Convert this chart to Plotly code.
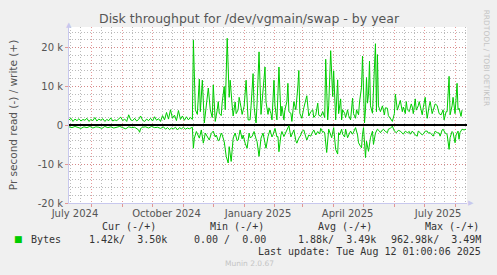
import datetime as dt
import plotly.graph_objects as go

# ---------------- data (day offset from start, value in k bytes/s) ----------------
start = dt.date(2024, 7, 9)
end_day = 400

write_day = [0, 2, 4, 6, 8, 10, 12, 14, 16, 18, 20, 22, 24, 26, 28, 30, 32, 34, 36, 38, 40, 42, 44, 46, 48, 50,
             52, 54, 56, 58, 60, 62, 64, 66, 68, 70, 72, 74, 76, 78, 80, 82, 84, 86, 88, 90, 92, 94, 96, 98, 100,
             102, 104, 106, 108, 110, 112, 114, 116, 118, 120, 122, 124,
             125, 127, 129, 131, 132, 134, 136, 138, 140, 142, 144, 145, 147, 149, 150, 151, 153, 154, 156, 157,
             159, 161, 162, 164, 165, 167, 168, 170, 171, 173, 174, 176, 178, 180, 182, 183, 185, 186, 188, 189,
             191, 193, 195, 197, 198, 200, 201, 203, 204, 206, 207, 209, 211, 213, 214, 216, 217, 219, 220, 221,
             223, 224, 226, 228, 230, 231, 232, 234, 236, 238, 239, 241, 243, 245, 246, 248, 250, 251, 253, 255,
             257, 258,
             260, 261, 263, 265, 266, 268, 270, 271, 273, 274, 275, 277, 278, 280, 281, 283, 285, 286, 288, 289,
             291, 292, 294, 295, 296, 297, 298, 299, 300, 301, 302, 303, 305, 306, 308, 309, 310, 311, 313, 315,
             317, 318, 320, 321, 323, 325, 327, 328, 330, 332, 333, 335, 336, 338, 339, 340, 342, 344, 345, 346,
             348, 349, 351, 352, 354, 355, 356, 358, 359, 360, 362, 363, 365, 367, 368, 370, 372, 374, 376, 377,
             379, 380, 382, 383, 385, 386, 388, 390, 391, 392, 394, 395, 397, 399]
write_k = [1.4, 1.8, 1.0, 1.6, 1.2, 1.7, 1.1, 1.5, 1.3, 1.8, 1.0, 1.5, 1.2, 2.0, 1.1, 1.6, 1.3, 1.7, 1.0, 1.5,
           1.2, 1.9, 1.1, 1.4, 1.2, 1.7, 2.1, 1.2, 1.6, 1.0, 2.7, 1.4, 1.2, 1.8, 1.1, 1.5, 2.4, 1.3, 1.0, 1.6,
           1.2, 1.8, 1.1, 2.2, 1.3, 1.7, 1.0, 2.5, 1.4, 3.3, 1.6, 4.0, 1.8, 2.6, 1.2, 3.8, 1.5, 2.4, 1.3, 2.2,
           1.4, 2.0, 1.5,
           21.9, 4.0, 2.8, 11.9, 3.5, 11.6, 0.6, 4.5, 9.6, 4.0, 2.0, 10.4, 1.0, 4.0, 6.1, 3.1, 2.5, 6.0, 10.0, 4.0,
           22.4, 7.2, 11.6, 5.0, 2.4, 6.0, 3.0, 4.0, 7.2, 4.5, 2.8, 4.9, 11.6, 1.4, 1.4, 5.0, 13.3, 4.8, 0.6, 5.5,
           18.9, 2.8, 8.0, 15.0, 6.0, 2.8, 4.5, 3.0, 1.4, 11.6, 5.0, 1.4, 15.0, 2.4, 4.9, 1.4, 4.0, 6.1, 10.8, 3.5,
           3.1, 1.0, 6.1, 4.0, 10.0, 14.1, 3.1, 1.8, 4.5, 6.6, 7.6, 2.4, 3.5, 4.0, 2.0, 2.7, 5.7, 2.6, 2.3, 3.5,
           2.0, 17.0,
           1.4, 5.0, 19.2, 7.4, 14.0, 1.4, 11.7, 3.0, 6.8, 1.4, 4.0, 3.1, 2.0, 4.0, 2.5, 1.4, 7.0, 3.0, 1.8, 4.0,
           2.7, 6.0, 9.8, 17.8, 5.0, 0.6, 4.0, 12.3, 5.7, 8.0, 16.5, 5.0, 3.1, 10.0, 21.0, 3.5, 18.2, 5.0, 3.5, 5.0,
           2.7, 4.5, 4.4, 2.5, 1.8, 1.0, 3.0, 8.0, 3.9, 6.0, 6.4, 3.5, 4.7, 3.0, 6.1, 4.0, 3.5, 5.5, 4.7, 3.0,
           6.8, 3.9, 5.0, 6.1, 3.5, 2.7, 4.5, 7.2, 4.0, 1.8, 5.0, 6.1, 3.0, 4.4, 5.5, 5.1, 3.0, 2.7, 4.0, 1.4,
           3.5, 3.5, 12.6, 2.7, 5.0, 7.2, 3.0, 10.8, 4.0, 4.4, 2.3, 3.9]

read_day = [0, 3, 6, 9, 12, 15, 18, 21, 24, 27, 30, 33, 36, 39, 42, 45, 48, 51, 54, 57, 60, 63, 66, 68, 70, 71,
            72, 74, 77, 80, 83, 86, 89, 92, 95, 97, 99, 101, 103, 105, 107, 109, 111, 113, 115, 117, 119, 121,
            123, 124,
            125, 126, 128, 130, 131, 133, 135, 137, 138, 140, 141, 143, 145, 147, 148, 150, 151, 153, 154, 156,
            158, 160, 161, 163, 165, 167, 169, 170, 172, 174, 175, 177, 179, 181, 182, 184, 186, 188, 189, 191,
            193, 195, 197, 198, 200, 202, 204, 205, 207, 209, 210, 211, 213, 214, 216, 218, 220, 221, 223, 224,
            226, 228, 229, 231, 233, 234, 236, 238, 239, 241, 243, 244, 246, 248, 250, 252, 253, 255, 256, 257,
            259, 261, 263, 264, 266, 268, 270, 271, 272, 274, 275, 277, 278, 280, 282, 283, 285, 287, 288, 290,
            291, 293, 294, 295, 296, 298, 299, 301, 303, 305, 306, 308, 310, 312, 313, 315, 316, 318, 320, 321,
            323, 325, 326, 327, 329, 331, 333, 335, 336, 338, 340, 342, 343, 345, 346, 348, 350, 351, 353, 355,
            356, 358, 360, 361, 363, 365, 366, 368, 370, 372, 373, 375, 376, 378, 380, 382, 383, 385, 386, 388,
            389, 391, 392, 393, 395, 397, 399]
read_k = [0.4, 0.6, 0.3, 0.5, 0.8, 0.4, 0.6, 0.3, 0.7, 0.4, 0.5, 0.8, 0.3, 0.6, 0.4, 0.7, 0.5, 0.3, 0.6, 0.9,
          0.4, 0.6, 0.5, 0.9, 1.2, 1.8, 0.8, 0.5, 0.4, 0.7, 0.3, 0.6, 0.5, 0.8, 0.4, 1.0, 0.6, 1.1, 0.7, 0.9,
          0.5, 1.2, 0.6, 0.9, 0.5, 1.0, 0.7, 0.9, 0.6, 0.5,
          5.9, 3.3, 1.6, 3.0, 3.3, 1.2, 4.6, 2.0, 2.5, 3.5, 3.8, 2.1, 1.5, 3.0, 2.5, 4.0, 3.8, 2.0, 2.5, 4.2,
          8.0, 9.7, 5.5, 9.3, 3.3, 2.0, 4.0, 3.8, 1.2, 3.5, 2.5, 4.6, 5.9, 2.0, 3.2, 2.9, 1.6, 3.5, 4.2, 8.0,
          3.3, 2.0, 4.5, 5.9, 2.9, 1.2, 3.0, 2.5, 0.8, 3.0, 2.9, 6.8, 2.5, 1.6, 2.9, 1.8, 0.8, 0.1, 3.0, 2.5,
          1.2, 4.0, 4.6, 3.3, 2.5, 1.6, 1.2, 3.0, 3.8, 2.5, 2.8, 2.1, 1.2, 2.5, 1.6, 2.2, 0.8, 1.8, 1.6, 2.0,
          7.0, 1.0, 2.5, 3.2, 0.6, 6.2, 7.4, 1.9, 2.5, 1.0, 2.3, 3.0, 1.0, 3.2, 2.0, 1.5, 2.3, 1.0, 0.6, 2.5,
          4.5, 5.4, 5.8, 2.3, 0.6, 8.3, 4.1, 6.7, 3.2, 1.5, 4.9, 2.0, 1.0, 1.5, 1.9, 1.2, 1.0, 1.6, 1.9, 1.0,
          0.8, 0.2, 1.0, 1.5, 1.9, 1.3, 1.5, 2.0, 2.3, 1.5, 1.9, 1.6, 2.3, 1.5, 1.9, 2.5, 2.8, 1.5, 1.9, 2.5,
          2.3, 1.5, 1.5, 2.0, 1.9, 2.5, 2.8, 1.5, 1.9, 2.0, 2.8, 1.2, 1.0, 2.0, 2.3, 6.2, 3.2, 1.6, 1.9, 4.5,
          2.5, 1.5, 3.6, 1.9, 1.0, 1.2, 1.0]

y_tick_vals = [-20000, -10000, 0, 10000, 20000]
y_tick_text = ["-20 k", "-10 k", "0", "10 k", "20 k"]
x_labels = ["July 2024", "October 2024", "January 2025", "April 2025", "July 2025"]
x_label_dates = ["2024-07-15", "2024-10-15", "2025-01-15", "2025-04-15", "2025-07-15"]

title = "Disk throughput for /dev/vgmain/swap - by year"
y_title = "Pr second read (-) / write (+)"
legend_head = ["Cur (-/+)", "Min (-/+)", "Avg (-/+)", "Max (-/+)"]
legend_vals = ["1.42k/  3.50k", "0.00 /  0.00", "1.88k/  3.49k", "962.98k/  3.49M"]
series_name = "Bytes"
last_update = "Last update: Tue Aug 12 01:00:06 2025"
footer = "Munin 2.0.67"
watermark = "RRDTOOL / TOBI OETIKER"

# ---------------- build ----------------
def d(o):
    return start + dt.timedelta(days=o)

wx = [d(o) for o in write_day]
wy = [v * 1000 for v in write_k]
rx = [d(o) for o in read_day]
ry = [-v * 1000 for v in read_k]

x0 = d(0)
x1 = d(end_day)

month_starts = []
m = dt.date(2024, 8, 1)
while m <= dt.date(2025, 8, 1):
    month_starts.append(m)
    m = dt.date(m.year + (m.month // 12), m.month % 12 + 1, 1)
minor_days = []
for ms in [dt.date(2024, 7, 1)] + month_starts:
    for dd in (11, 21):
        t = dt.date(ms.year, ms.month, dd)
        if x0 < t < x1:
            minor_days.append(t)

W, H = 497, 275
L, R, T, B = 67, 30, 27, 71.5
PW, PH = W - L - R, H - T - B

def px(x):
    return (x - L) / PW

def py(y):
    return (H - B - y) / PH

GREEN = "#00CC00"
RED = "rgba(222,120,120,0.75)"
GRAY = "rgba(180,180,180,0.9)"
AX = "#c8c8ee"

fig = go.Figure()
fig.add_trace(go.Scatter(x=wx, y=wy, mode="lines", line=dict(color=GREEN, width=1), showlegend=False))
fig.add_trace(go.Scatter(x=rx, y=ry, mode="lines", line=dict(color=GREEN, width=1), showlegend=False))
# invisible trace on xaxis2 to carry the labels
fig.add_trace(go.Scatter(x=[x0, x1], y=[0, 0], xaxis="x2", mode="lines",
                         line=dict(width=0), hoverinfo="skip", showlegend=False))

fig.update_layout(
    width=W, height=H,
    margin=dict(l=L, r=R, t=T, b=B),
    paper_bgcolor="#F0F0F0", plot_bgcolor="white",
    font=dict(family="DejaVu Sans", size=10, color="#555555"),
    xaxis=dict(range=[x0, x1], tickmode="array", tickvals=month_starts, ticktext=[""] * len(month_starts),
               showgrid=True, gridcolor=RED, griddash="1px,2px", gridwidth=1,
               ticks="outside", ticklen=3, tickcolor=RED,
               minor=dict(tickmode="array", tickvals=minor_days, showgrid=True, gridcolor=GRAY,
                          griddash="1px,2px", ticks=""),
               showline=True, linecolor=AX, linewidth=1, zeroline=False),
    xaxis2=dict(range=[x0, x1], overlaying="x", anchor="y", side="bottom", tickmode="array",
                tickvals=x_label_dates, ticktext=x_labels, showgrid=False, zeroline=False,
                ticks="", ticklabelstandoff=3, tickfont=dict(size=10, color="#555555"), showline=False),
    yaxis=dict(range=[-20000, 25300], tickmode="array", tickvals=y_tick_vals, ticktext=y_tick_text,
               showgrid=True, gridcolor=RED, griddash="1px,2px", gridwidth=1,
               ticks="outside", ticklen=3, tickcolor=RED, ticklabelstandoff=0,
               minor=dict(dtick=2000, tick0=0, showgrid=True, gridcolor=GRAY, griddash="1px,2px", ticks=""),
               zeroline=True, zerolinecolor="black", zerolinewidth=2,
               showline=True, linecolor=AX, linewidth=1,
               title=dict(text=y_title, font=dict(size=10.5, color="#555555"), standoff=18)),
)

ann = []
ann.append(dict(text=title, x=px(248), y=py(18), xanchor="center", yanchor="middle",
                font=dict(size=12.5, color="#555555")))
ann.append(dict(text=watermark, x=px(487), y=py(8), xanchor="center", yanchor="top", textangle=90,
                font=dict(size=7.5, color="#c4c4c4")))
head_x = [98, 207, 315, 423]
for t, xx in zip(legend_head, head_x):
    ann.append(dict(text=t.replace(" ", "&nbsp;"), x=px(xx), y=py(227.5), xanchor="left", yanchor="middle",
                    font=dict(family="DejaVu Sans Mono", size=10, color="#333333")))
val_right = [167, 267, 378, 483]
for t, xx in zip(legend_vals, val_right):
    ann.append(dict(text=t.replace(" ", "&nbsp;"), x=px(xx), y=py(240), xanchor="right", yanchor="middle",
                    font=dict(family="DejaVu Sans Mono", size=10, color="#333333")))
ann.append(dict(text=series_name, x=px(27), y=py(240), xanchor="left", yanchor="middle",
                font=dict(family="DejaVu Sans Mono", size=10, color="#333333")))
ann.append(dict(text="■", x=px(16.5), y=py(240), xanchor="center", yanchor="middle",
                font=dict(family="DejaVu Sans", size=9, color=GREEN)))
ann.append(dict(text=last_update, x=px(483), y=py(252), xanchor="right", yanchor="middle",
                font=dict(family="DejaVu Sans Mono", size=10, color="#333333")))
ann.append(dict(text=footer, x=px(248), y=py(264), xanchor="center", yanchor="middle",
                font=dict(family="DejaVu Sans", size=7.5, color="#c4c4c4")))
ann.append(dict(text="▲", x=px(67), y=py(25), xanchor="center", yanchor="middle",
                font=dict(size=7, color=AX)))
ann.append(dict(text="▶", x=px(471), y=py(203.5), xanchor="center", yanchor="middle",
                font=dict(size=7, color=AX)))
for a in ann:
    a.update(xref="paper", yref="paper", showarrow=False)
fig.update_layout(annotations=ann)

fig.write_html("out.html")
